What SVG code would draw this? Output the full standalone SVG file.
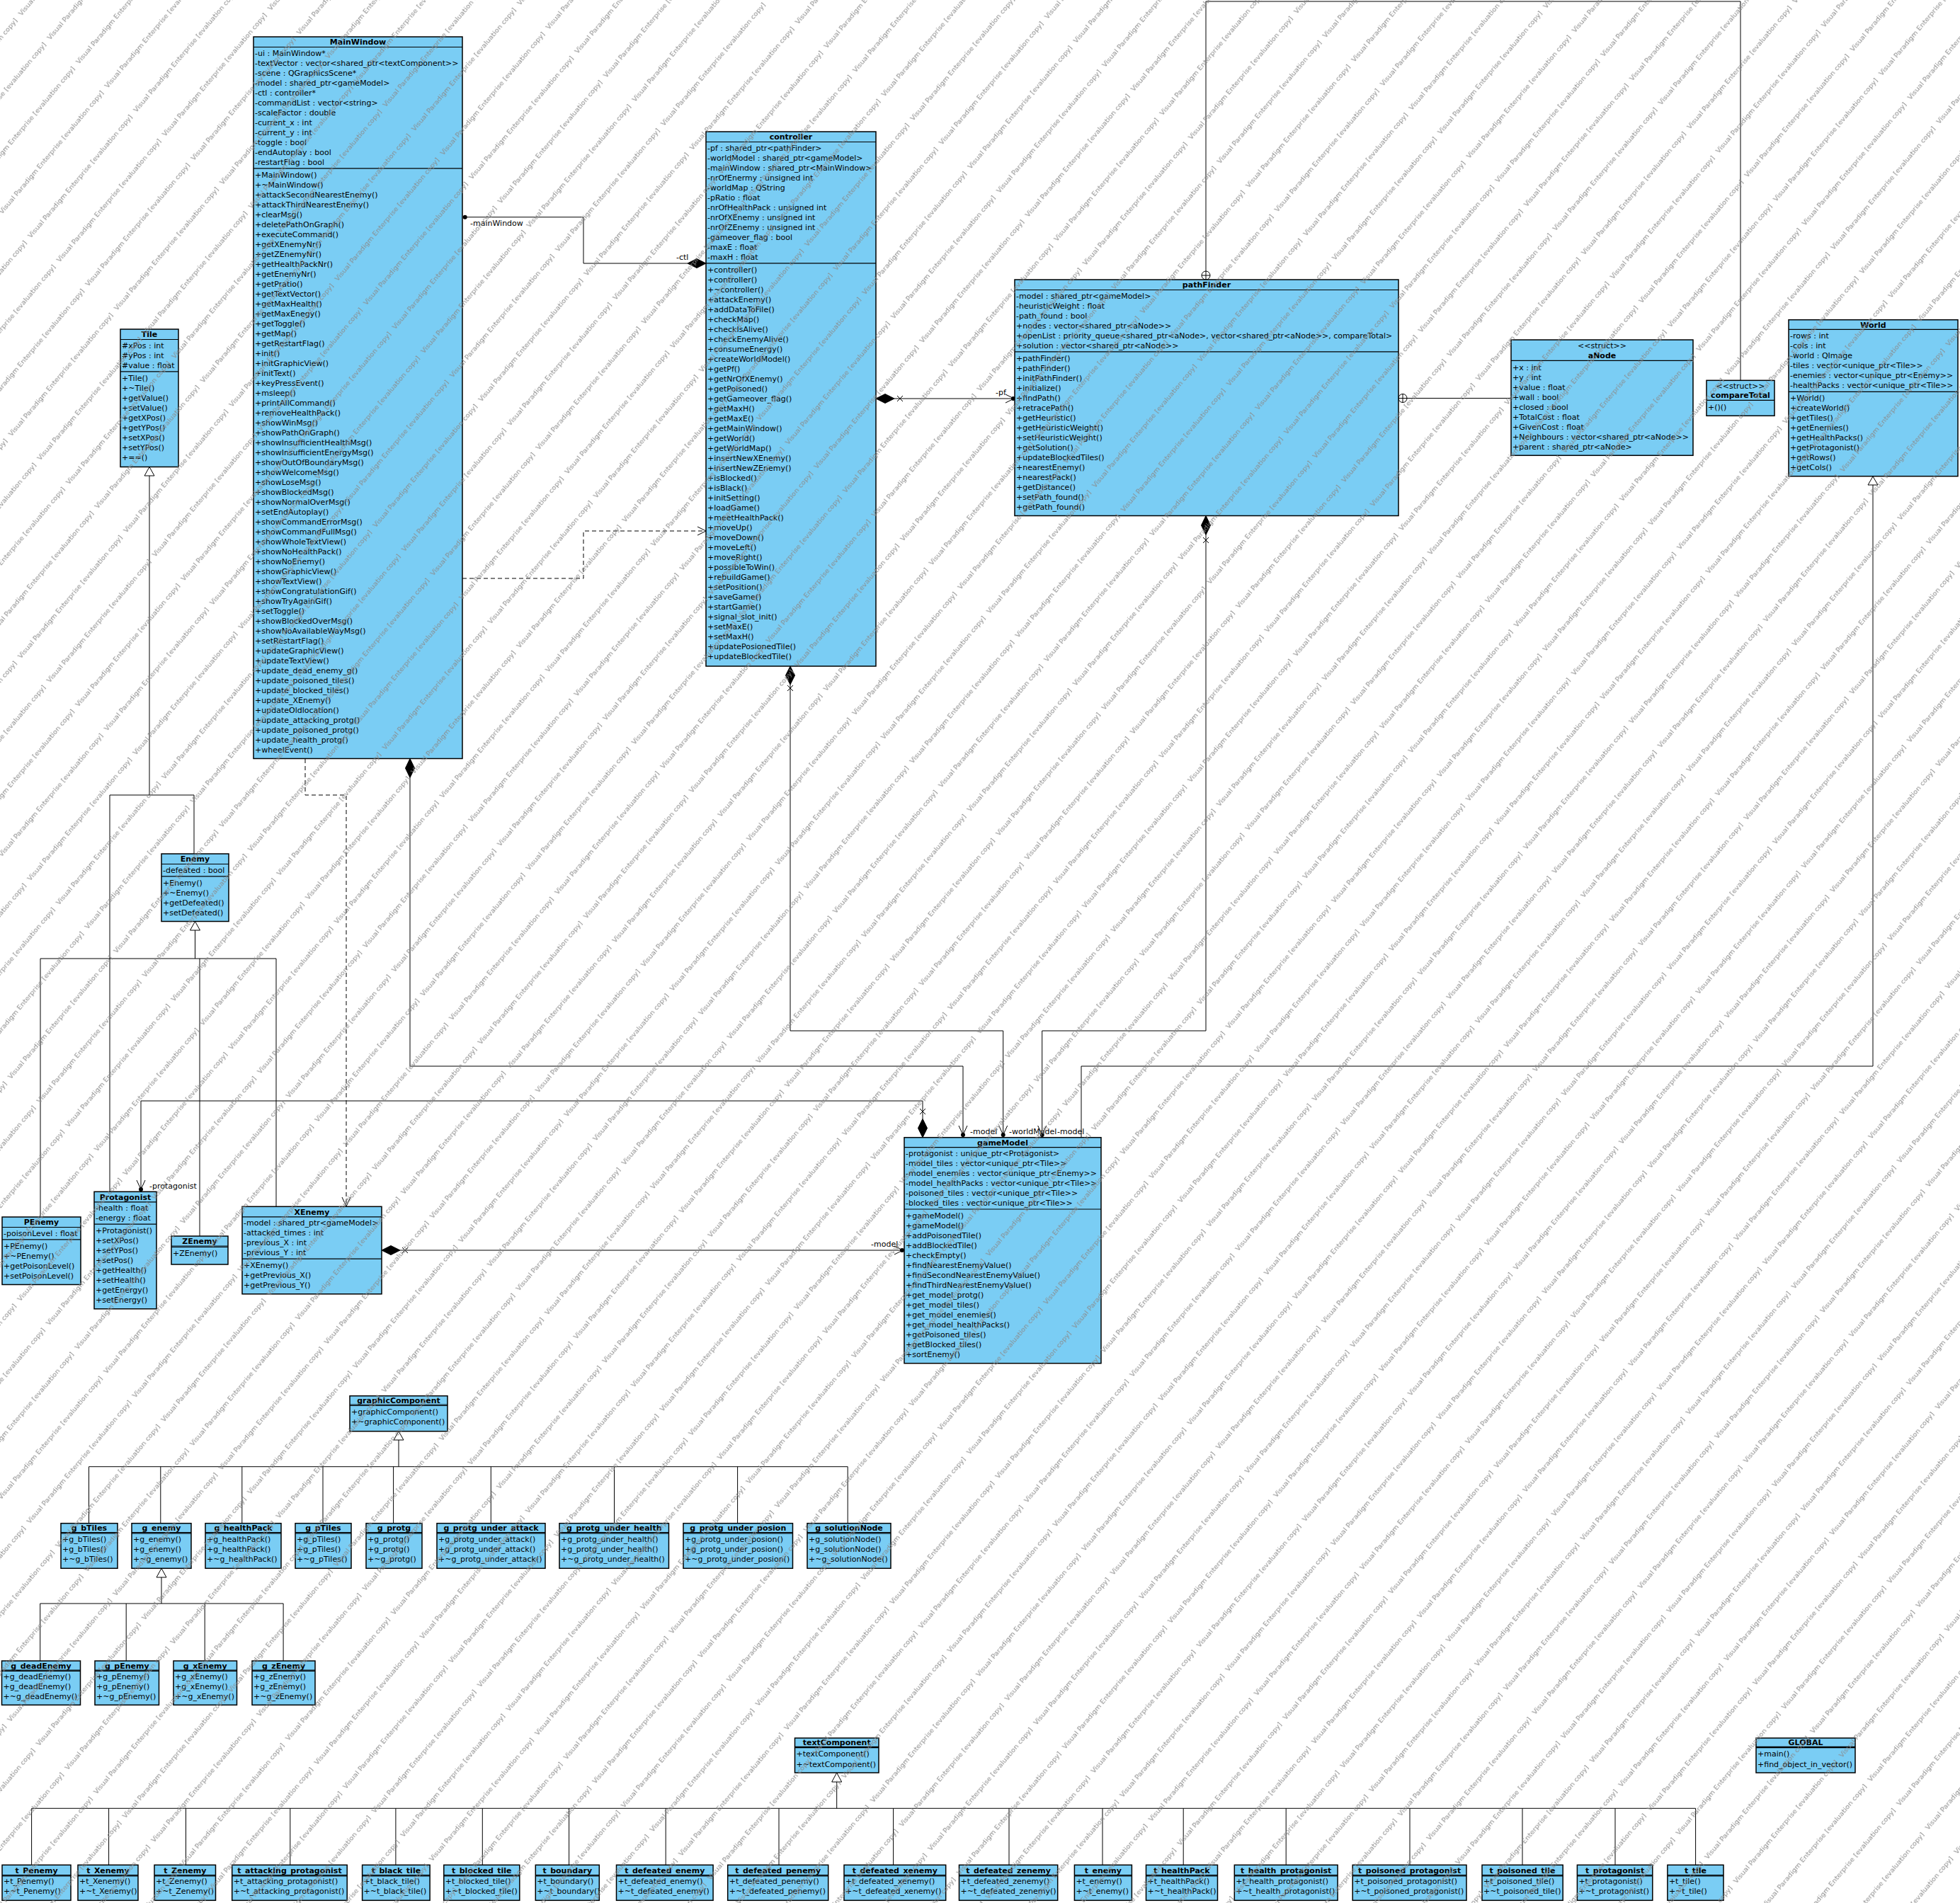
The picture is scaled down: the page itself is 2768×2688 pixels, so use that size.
<svg xmlns="http://www.w3.org/2000/svg" width="2768" height="2688" viewBox="0 0 2768 2688">
<defs>
<style>
.box{fill:#7acdf4;stroke:#000;stroke-width:1.5}
.dv{fill:none;stroke:#000;stroke-width:1.2}
.t{font-family:"DejaVu Sans",Verdana,sans-serif;font-size:11px;fill:#000}
.tt{font-family:"DejaVu Sans",Verdana,sans-serif;font-size:11px;font-weight:bold;text-anchor:middle;fill:#000}
.st{font-family:"DejaVu Sans",Verdana,sans-serif;font-size:11px;text-anchor:middle;fill:#000}
.ln{fill:none;stroke:#000;stroke-width:1}
.dash{stroke-dasharray:6 4}
.fill{fill:#000;stroke:#000;stroke-width:1}
.tri{fill:#fff;stroke:#000;stroke-width:1}
.wmt{font-family:"DejaVu Sans",sans-serif;font-size:9px;fill:#8a8a8a}
</style>
<pattern id="wm" patternUnits="userSpaceOnUse" width="232" height="53" patternTransform="rotate(-50)">
<text class="wmt" x="2" y="38" textLength="224" lengthAdjust="spacingAndGlyphs">Visual Paradigm Enterprise [evaluation copy]</text>
</pattern>
</defs>
<rect width="2768" height="2688" fill="#fff"/>

<!-- connectors -->
<g id="connectors">
<!-- MainWindow - controller -->
<path class="ln" d="M657,306.7 H824 V372 H971"/>
<circle cx="656.7" cy="306.7" r="3"/>
<path class="fill" d="M997,372 L984,365.5 L971,372 L984,378.5 Z"/>
<text class="t" x="664" y="319">-mainWindow</text>
<text class="t" x="955" y="367">-ctl</text>
<path class="ln dash" d="M653,817 H824 V750 H997"/>
<path class="ln" d="M985,744 L997,750 L985,756"/>
<!-- MainWindow - XEnemy dependency -->
<path class="ln dash" d="M431,1072 V1123 H489 V1704"/>
<path class="ln" d="M483,1691 L489,1704 L495,1691"/>
<!-- MainWindow - gameModel -->
<path class="fill" d="M579,1071.5 L572.5,1085 L579,1098.5 L585.5,1085 Z"/>
<path class="ln" d="M579,1098.5 V1506 H1360 V1606.7"/>
<path class="ln" d="M1354,1590 L1360,1603 L1366,1590"/>
<circle cx="1360" cy="1603" r="3"/>
<text class="t" x="1370" y="1602">-model</text>
<!-- controller - gameModel -->
<path class="fill" d="M1116,941 L1109.5,954 L1116,967 L1122.5,954 Z"/>
<path class="ln" d="M1112,968 L1120,976 M1120,968 L1112,976"/>
<path class="ln" d="M1116,967 V1456 H1416.7 V1606.7"/>
<path class="ln" d="M1410.7,1590 L1416.7,1603 L1422.7,1590"/>
<circle cx="1416.7" cy="1603" r="3"/>
<text class="t" x="1425" y="1602">-worldModel</text>
<!-- pathFinder - gameModel -->
<path class="fill" d="M1703,728.5 L1696.5,742 L1703,755.5 L1709.5,742 Z"/>
<path class="ln" d="M1699,759 L1707,767 M1707,759 L1699,767"/>
<path class="ln" d="M1703,755.5 V1456 H1471.7 V1606.7"/>
<path class="ln" d="M1465.7,1590 L1471.7,1603 L1477.7,1590"/>
<circle cx="1471.7" cy="1603" r="3"/>
<text class="t" x="1493" y="1602">-model</text>
<!-- gameModel generalizes World -->
<path class="ln" d="M1527,1606.7 V1506 H2645 V685"/>
<path class="tri" d="M2645,673 L2638,685 L2652,685 Z"/>
<!-- controller - pathFinder -->
<path class="fill" d="M1237,563 L1250,556.5 L1263,563 L1250,569.5 Z"/>
<path class="ln" d="M1267,559 L1275,567 M1275,559 L1267,567"/>
<path class="ln" d="M1263,563 H1433"/>
<path class="ln" d="M1420,557 L1432,563 L1420,569"/>
<circle cx="1431" cy="563" r="3"/>
<text class="t" x="1406" y="558">-pf</text>
<!-- pathFinder nests compareTotal -->
<circle cx="1703" cy="389" r="6" fill="#fff" stroke="#000"/>
<path class="ln" d="M1697,389 H1709 M1703,383 V395"/>
<path class="ln" d="M1703,383 V2 H2458 V537.3"/>
<!-- pathFinder nests aNode -->
<circle cx="1981" cy="562.5" r="6" fill="#fff" stroke="#000"/>
<path class="ln" d="M1975,562.5 H1987 M1981,556.5 V568.5"/>
<path class="ln" d="M1987,562.5 H2134"/>
<!-- gameModel - Protagonist -->
<path class="fill" d="M1303,1606.7 L1296.5,1593.5 L1303,1580.3 L1309.5,1593.5 Z"/>
<path class="ln" d="M1299,1566 L1307,1574 M1307,1566 L1299,1574"/>
<path class="ln" d="M1303,1580.3 V1555 H199 V1683.3"/>
<path class="ln" d="M193,1667 L199,1680 L205,1667"/>
<circle cx="199" cy="1680" r="3"/>
<text class="t" x="211" y="1679">-protagonist</text>
<!-- XEnemy - gameModel -->
<path class="fill" d="M539,1766 L552,1759.5 L565,1766 L552,1772.5 Z"/>
<path class="ln" d="M568,1762 L576,1770 M576,1762 L568,1770"/>
<path class="ln" d="M565,1766 H1277"/>
<path class="ln" d="M1263,1760 L1275,1766 L1263,1772"/>
<circle cx="1274" cy="1766" r="3"/>
<text class="t" x="1230" y="1761">-model</text>
<!-- Tile hierarchy -->
<path class="ln" d="M211,672 V1123 M155,1123 H274 M155,1123 V1683.3 M274,1123 V1206"/>
<path class="tri" d="M211,659.5 L204,672 L218,672 Z"/>
<!-- Enemy hierarchy -->
<path class="ln" d="M275.5,1314 V1354 M57,1354 H390 M57,1354 V1719 M282,1354 V1746 M390,1354 V1704.3"/>
<path class="tri" d="M275.5,1301.5 L268.5,1314 L282.5,1314 Z"/>
<!-- graphicComponent hierarchy -->
<path class="ln" d="M563,2034 V2071.7 M125.5,2071.7 H1197.2 M125.5,2071.7 V2151.7 M226.8,2071.7 V2151.7 M341.8,2071.7 V2151.7 M456,2071.7 V2151.7 M555.6,2071.7 V2151.7 M693.3,2071.7 V2151.7 M867.5,2071.7 V2151.7 M1041.6,2071.7 V2151.7 M1197.2,2071.7 V2151.7"/>
<path class="tri" d="M563,2021.7 L556,2034 L570,2034 Z"/>
<!-- g_enemy hierarchy -->
<path class="ln" d="M228,2228 V2265 M56.7,2265 H400.1 M56.7,2265 V2346 M178.2,2265 V2346 M289.2,2265 V2346 M400.1,2265 V2346"/>
<path class="tri" d="M228,2215.3 L221,2228 L235,2228 Z"/>
<!-- textComponent hierarchy -->
<path class="ln" d="M1181.7,2517 V2554.3 M44.6,2554.3 H2394.6 M44.6,2554.3 V2634.3 M153.6,2554.3 V2634.3 M262.5,2554.3 V2634.3 M409.8,2554.3 V2634.3 M558.9,2554.3 V2634.3 M681.3,2554.3 V2634.3 M803.6,2554.3 V2634.3 M940.2,2554.3 V2634.3 M1100,2554.3 V2634.3 M1261.6,2554.3 V2634.3 M1425,2554.3 V2634.3 M1557,2554.3 V2634.3 M1671.2,2554.3 V2634.3 M1816.2,2554.3 V2634.3 M1991,2554.3 V2634.3 M2150,2554.3 V2634.3 M2281,2554.3 V2634.3 M2394.6,2554.3 V2634.3"/>
<path class="tri" d="M1181.7,2504 L1174.7,2517 L1188.7,2517 Z"/>
</g>

<!-- classes -->
<g id="MainWindow">
<rect class="box" x="358" y="52" width="295" height="1019.5"/>
<path class="dv" d="M358,66.5 H653 M358,237.8 H653"/>
<text class="tt" x="505.5" y="63.3">MainWindow</text>
<text class="t" x="360" y="78.8"><tspan x="360">-ui : MainWindow*</tspan><tspan x="360" dy="14">-textVector : vector&lt;shared_ptr&lt;textComponent&gt;&gt;</tspan><tspan x="360" dy="14">-scene : QGraphicsScene*</tspan><tspan x="360" dy="14">-model : shared_ptr&lt;gameModel&gt;</tspan><tspan x="360" dy="14">-ctl : controller*</tspan><tspan x="360" dy="14">-commandList : vector&lt;string&gt;</tspan><tspan x="360" dy="14">-scaleFactor : double</tspan><tspan x="360" dy="14">-current_x : int</tspan><tspan x="360" dy="14">-current_y : int</tspan><tspan x="360" dy="14">-toggle : bool</tspan><tspan x="360" dy="14">-endAutoplay : bool</tspan><tspan x="360" dy="14">-restartFlag : bool</tspan></text>
<text class="t" x="360" y="250.5"><tspan x="360">+MainWindow()</tspan><tspan x="360" dy="14">+~MainWindow()</tspan><tspan x="360" dy="14">+attackSecondNearestEnemy()</tspan><tspan x="360" dy="14">+attackThirdNearestEnemy()</tspan><tspan x="360" dy="14">+clearMsg()</tspan><tspan x="360" dy="14">+deletePathOnGraph()</tspan><tspan x="360" dy="14">+executeCommand()</tspan><tspan x="360" dy="14">+getXEnemyNr()</tspan><tspan x="360" dy="14">+getZEnemyNr()</tspan><tspan x="360" dy="14">+getHealthPackNr()</tspan><tspan x="360" dy="14">+getEnemyNr()</tspan><tspan x="360" dy="14">+getPratio()</tspan><tspan x="360" dy="14">+getTextVector()</tspan><tspan x="360" dy="14">+getMaxHealth()</tspan><tspan x="360" dy="14">+getMaxEnegy()</tspan><tspan x="360" dy="14">+getToggle()</tspan><tspan x="360" dy="14">+getMap()</tspan><tspan x="360" dy="14">+getRestartFlag()</tspan><tspan x="360" dy="14">+init()</tspan><tspan x="360" dy="14">+initGraphicView()</tspan><tspan x="360" dy="14">+initText()</tspan><tspan x="360" dy="14">+keyPressEvent()</tspan><tspan x="360" dy="14">+msleep()</tspan><tspan x="360" dy="14">+printAllCommand()</tspan><tspan x="360" dy="14">+removeHealthPack()</tspan><tspan x="360" dy="14">+showWinMsg()</tspan><tspan x="360" dy="14">+showPathOnGraph()</tspan><tspan x="360" dy="14">+showInsufficientHealthMsg()</tspan><tspan x="360" dy="14">+showInsufficientEnergyMsg()</tspan><tspan x="360" dy="14">+showOutOfBoundaryMsg()</tspan><tspan x="360" dy="14">+showWelcomeMsg()</tspan><tspan x="360" dy="14">+showLoseMsg()</tspan><tspan x="360" dy="14">+showBlockedMsg()</tspan><tspan x="360" dy="14">+showNormalOverMsg()</tspan><tspan x="360" dy="14">+setEndAutoplay()</tspan><tspan x="360" dy="14">+showCommandErrorMsg()</tspan><tspan x="360" dy="14">+showCommandFullMsg()</tspan><tspan x="360" dy="14">+showWholeTextView()</tspan><tspan x="360" dy="14">+showNoHealthPack()</tspan><tspan x="360" dy="14">+showNoEnemy()</tspan><tspan x="360" dy="14">+showGraphicView()</tspan><tspan x="360" dy="14">+showTextView()</tspan><tspan x="360" dy="14">+showCongratulationGif()</tspan><tspan x="360" dy="14">+showTryAgainGif()</tspan><tspan x="360" dy="14">+setToggle()</tspan><tspan x="360" dy="14">+showBlockedOverMsg()</tspan><tspan x="360" dy="14">+showNoAvailableWayMsg()</tspan><tspan x="360" dy="14">+setRestartFlag()</tspan><tspan x="360" dy="14">+updateGraphicView()</tspan><tspan x="360" dy="14">+updateTextView()</tspan><tspan x="360" dy="14">+update_dead_enemy_g()</tspan><tspan x="360" dy="14">+update_poisoned_tiles()</tspan><tspan x="360" dy="14">+update_blocked_tiles()</tspan><tspan x="360" dy="14">+update_XEnemy()</tspan><tspan x="360" dy="14">+updateOldlocation()</tspan><tspan x="360" dy="14">+update_attacking_protg()</tspan><tspan x="360" dy="14">+update_poisoned_protg()</tspan><tspan x="360" dy="14">+update_health_protg()</tspan><tspan x="360" dy="14">+wheelEvent()</tspan></text>
</g>

<g id="controller">
<rect class="box" x="997" y="186" width="240" height="755"/>
<path class="dv" d="M997,200.5 H1237 M997,371.8 H1237"/>
<text class="tt" x="1117" y="197.3">controller</text>
<text class="t" x="999" y="212.8"><tspan x="999">-pf : shared_ptr&lt;pathFinder&gt;</tspan><tspan x="999" dy="14">-worldModel : shared_ptr&lt;gameModel&gt;</tspan><tspan x="999" dy="14">-mainWindow : shared_ptr&lt;MainWindow&gt;</tspan><tspan x="999" dy="14">-nrOfEnermy : unsigned int</tspan><tspan x="999" dy="14">-worldMap : QString</tspan><tspan x="999" dy="14">-pRatio : float</tspan><tspan x="999" dy="14">-nrOfHealthPack : unsigned int</tspan><tspan x="999" dy="14">-nrOfXEnemy : unsigned int</tspan><tspan x="999" dy="14">-nrOfZEnemy : unsigned int</tspan><tspan x="999" dy="14">-gameover_flag : bool</tspan><tspan x="999" dy="14">-maxE : float</tspan><tspan x="999" dy="14">-maxH : float</tspan></text>
<text class="t" x="999" y="384.5"><tspan x="999">+controller()</tspan><tspan x="999" dy="14">+controller()</tspan><tspan x="999" dy="14">+~controller()</tspan><tspan x="999" dy="14">+attackEnemy()</tspan><tspan x="999" dy="14">+addDataToFile()</tspan><tspan x="999" dy="14">+checkMap()</tspan><tspan x="999" dy="14">+checkIsAlive()</tspan><tspan x="999" dy="14">+checkEnemyAlive()</tspan><tspan x="999" dy="14">+consumeEnergy()</tspan><tspan x="999" dy="14">+createWorldModel()</tspan><tspan x="999" dy="14">+getPf()</tspan><tspan x="999" dy="14">+getNrOfXEnemy()</tspan><tspan x="999" dy="14">+getPoisoned()</tspan><tspan x="999" dy="14">+getGameover_flag()</tspan><tspan x="999" dy="14">+getMaxH()</tspan><tspan x="999" dy="14">+getMaxE()</tspan><tspan x="999" dy="14">+getMainWindow()</tspan><tspan x="999" dy="14">+getWorld()</tspan><tspan x="999" dy="14">+getWorldMap()</tspan><tspan x="999" dy="14">+insertNewXEnemy()</tspan><tspan x="999" dy="14">+insertNewZEnemy()</tspan><tspan x="999" dy="14">+isBlocked()</tspan><tspan x="999" dy="14">+isBlack()</tspan><tspan x="999" dy="14">+initSetting()</tspan><tspan x="999" dy="14">+loadGame()</tspan><tspan x="999" dy="14">+meetHealthPack()</tspan><tspan x="999" dy="14">+moveUp()</tspan><tspan x="999" dy="14">+moveDown()</tspan><tspan x="999" dy="14">+moveLeft()</tspan><tspan x="999" dy="14">+moveRight()</tspan><tspan x="999" dy="14">+possibleToWin()</tspan><tspan x="999" dy="14">+rebuildGame()</tspan><tspan x="999" dy="14">+setPosition()</tspan><tspan x="999" dy="14">+saveGame()</tspan><tspan x="999" dy="14">+startGame()</tspan><tspan x="999" dy="14">+signal_slot_init()</tspan><tspan x="999" dy="14">+setMaxE()</tspan><tspan x="999" dy="14">+setMaxH()</tspan><tspan x="999" dy="14">+updatePosionedTile()</tspan><tspan x="999" dy="14">+updateBlockedTile()</tspan></text>
</g>

<g id="pathFinder">
<rect class="box" x="1433" y="395" width="542" height="333.5"/>
<path class="dv" d="M1433,409.5 H1975 M1433,496.8 H1975"/>
<text class="tt" x="1704" y="406.3">pathFinder</text>
<text class="t" x="1435" y="421.8"><tspan x="1435">-model : shared_ptr&lt;gameModel&gt;</tspan><tspan x="1435" dy="14">-heuristicWeight : float</tspan><tspan x="1435" dy="14">-path_found : bool</tspan><tspan x="1435" dy="14">+nodes : vector&lt;shared_ptr&lt;aNode&gt;&gt;</tspan><tspan x="1435" dy="14">+openList : priority_queue&lt;shared_ptr&lt;aNode&gt;, vector&lt;shared_ptr&lt;aNode&gt;&gt;, compareTotal&gt;</tspan><tspan x="1435" dy="14">+solution : vector&lt;shared_ptr&lt;aNode&gt;&gt;</tspan></text>
<text class="t" x="1435" y="509.5"><tspan x="1435">+pathFinder()</tspan><tspan x="1435" dy="14">+pathFinder()</tspan><tspan x="1435" dy="14">+initPathFinder()</tspan><tspan x="1435" dy="14">+initialize()</tspan><tspan x="1435" dy="14">+findPath()</tspan><tspan x="1435" dy="14">+retracePath()</tspan><tspan x="1435" dy="14">+getHeuristic()</tspan><tspan x="1435" dy="14">+getHeuristicWeight()</tspan><tspan x="1435" dy="14">+setHeuristicWeight()</tspan><tspan x="1435" dy="14">+getSolution()</tspan><tspan x="1435" dy="14">+updateBlockedTiles()</tspan><tspan x="1435" dy="14">+nearestEnemy()</tspan><tspan x="1435" dy="14">+nearestPack()</tspan><tspan x="1435" dy="14">+getDistance()</tspan><tspan x="1435" dy="14">+setPath_found()</tspan><tspan x="1435" dy="14">+getPath_found()</tspan></text>
</g>

<g id="aNode">
<rect class="box" x="2134" y="480" width="257" height="163.3"/>
<path class="dv" d="M2134,509.3 H2391"/>
<text class="st" x="2262.5" y="492.3">&lt;&lt;struct&gt;&gt;</text>
<text class="tt" x="2262.5" y="506">aNode</text>
<text class="t" x="2136" y="522.7"><tspan x="2136">+x : int</tspan><tspan x="2136" dy="14">+y : int</tspan><tspan x="2136" dy="14">+value : float</tspan><tspan x="2136" dy="14">+wall : bool</tspan><tspan x="2136" dy="14">+closed : bool</tspan><tspan x="2136" dy="14">+TotalCost : float</tspan><tspan x="2136" dy="14">+GivenCost : float</tspan><tspan x="2136" dy="14">+Neighbours : vector&lt;shared_ptr&lt;aNode&gt;&gt;</tspan><tspan x="2136" dy="14">+parent : shared_ptr&lt;aNode&gt;</tspan></text>
</g>

<g id="compareTotal">
<rect class="box" x="2410" y="537.3" width="96" height="50"/>
<path class="dv" d="M2410,565.3 H2506"/>
<text class="st" x="2458" y="549">&lt;&lt;struct&gt;&gt;</text>
<text class="tt" x="2458" y="562">compareTotal</text>
<text class="t" x="2412" y="578.7">+()()</text>
</g>

<g id="World">
<rect class="box" x="2526" y="451.7" width="239" height="221"/>
<path class="dv" d="M2526,465.3 H2765 M2526,553.3 H2765"/>
<text class="tt" x="2645.5" y="462.5">World</text>
<text class="t" x="2528" y="478"><tspan x="2528">-rows : int</tspan><tspan x="2528" dy="14">-cols : int</tspan><tspan x="2528" dy="14">-world : QImage</tspan><tspan x="2528" dy="14">-tiles : vector&lt;unique_ptr&lt;Tile&gt;&gt;</tspan><tspan x="2528" dy="14">-enemies : vector&lt;unique_ptr&lt;Enemy&gt;&gt;</tspan><tspan x="2528" dy="14">-healthPacks : vector&lt;unique_ptr&lt;Tile&gt;&gt;</tspan></text>
<text class="t" x="2528" y="566"><tspan x="2528">+World()</tspan><tspan x="2528" dy="14">+createWorld()</tspan><tspan x="2528" dy="14">+getTiles()</tspan><tspan x="2528" dy="14">+getEnemies()</tspan><tspan x="2528" dy="14">+getHealthPacks()</tspan><tspan x="2528" dy="14">+getProtagonist()</tspan><tspan x="2528" dy="14">+getRows()</tspan><tspan x="2528" dy="14">+getCols()</tspan></text>
</g>

<g id="Tile">
<rect class="box" x="170" y="465" width="82" height="194.5"/>
<path class="dv" d="M170,479.5 H252 M170,524.8 H252"/>
<text class="tt" x="211" y="476.3">Tile</text>
<text class="t" x="172" y="491.8"><tspan x="172">#xPos : int</tspan><tspan x="172" dy="14">#yPos : int</tspan><tspan x="172" dy="14">#value : float</tspan></text>
<text class="t" x="172" y="537.5"><tspan x="172">+Tile()</tspan><tspan x="172" dy="14">+~Tile()</tspan><tspan x="172" dy="14">+getValue()</tspan><tspan x="172" dy="14">+setValue()</tspan><tspan x="172" dy="14">+getXPos()</tspan><tspan x="172" dy="14">+getYPos()</tspan><tspan x="172" dy="14">+setXPos()</tspan><tspan x="172" dy="14">+setYPos()</tspan><tspan x="172" dy="14">+==()</tspan></text>
</g>

<g id="Enemy">
<rect class="box" x="228" y="1206" width="95" height="95.5"/>
<path class="dv" d="M228,1220.5 H323 M228,1237.8 H323"/>
<text class="tt" x="275.5" y="1217.3">Enemy</text>
<text class="t" x="230" y="1232.8">-defeated : bool</text>
<text class="t" x="230" y="1250.5"><tspan x="230">+Enemy()</tspan><tspan x="230" dy="14">+~Enemy()</tspan><tspan x="230" dy="14">+getDefeated()</tspan><tspan x="230" dy="14">+setDefeated()</tspan></text>
</g>

<g id="PEnemy">
<rect class="box" x="3" y="1719" width="111" height="95.5"/>
<path class="dv" d="M3,1733.5 H114 M3,1750.8 H114"/>
<text class="tt" x="58.5" y="1730.3">PEnemy</text>
<text class="t" x="5" y="1745.8">-poisonLevel : float</text>
<text class="t" x="5" y="1763.5"><tspan x="5">+PEnemy()</tspan><tspan x="5" dy="14">+~PEnemy()</tspan><tspan x="5" dy="14">+getPoisonLevel()</tspan><tspan x="5" dy="14">+setPoisonLevel()</tspan></text>
</g>

<g id="Protagonist">
<rect class="box" x="133" y="1683.3" width="88" height="165.5"/>
<path class="dv" d="M133,1697.8 H221 M133,1729.1 H221"/>
<text class="tt" x="177" y="1694.6">Protagonist</text>
<text class="t" x="135" y="1710.1"><tspan x="135">-health : float</tspan><tspan x="135" dy="14">-energy : float</tspan></text>
<text class="t" x="135" y="1741.8"><tspan x="135">+Protagonist()</tspan><tspan x="135" dy="14">+setXPos()</tspan><tspan x="135" dy="14">+setYPos()</tspan><tspan x="135" dy="14">+setPos()</tspan><tspan x="135" dy="14">+getHealth()</tspan><tspan x="135" dy="14">+setHealth()</tspan><tspan x="135" dy="14">+getEnergy()</tspan><tspan x="135" dy="14">+setEnergy()</tspan></text>
</g>

<g id="ZEnemy">
<rect class="box" x="242" y="1746" width="80" height="40"/>
<path class="dv" d="M242,1760 H322 M242,1761.5 H322"/>
<text class="tt" x="282" y="1757">ZEnemy</text>
<text class="t" x="244" y="1774">+ZEnemy()</text>
</g>

<g id="XEnemy">
<rect class="box" x="342" y="1704.3" width="197" height="123.5"/>
<path class="dv" d="M342,1718.8 H539 M342,1778.1 H539"/>
<text class="tt" x="440.5" y="1715.6">XEnemy</text>
<text class="t" x="344" y="1731.1"><tspan x="344">-model : shared_ptr&lt;gameModel&gt;</tspan><tspan x="344" dy="14">-attacked_times : int</tspan><tspan x="344" dy="14">-previous_X : int</tspan><tspan x="344" dy="14">-previous_Y : int</tspan></text>
<text class="t" x="344" y="1790.8"><tspan x="344">+XEnemy()</tspan><tspan x="344" dy="14">+getPrevious_X()</tspan><tspan x="344" dy="14">+getPrevious_Y()</tspan></text>
</g>

<g id="gameModel">
<rect class="box" x="1277" y="1606.7" width="278" height="319"/>
<path class="dv" d="M1277,1620.7 H1555 M1277,1708 H1555"/>
<text class="tt" x="1416" y="1617.7">gameModel</text>
<text class="t" x="1279" y="1633"><tspan x="1279">-protagonist : unique_ptr&lt;Protagonist&gt;</tspan><tspan x="1279" dy="14">-model_tiles : vector&lt;unique_ptr&lt;Tile&gt;&gt;</tspan><tspan x="1279" dy="14">-model_enemies : vector&lt;unique_ptr&lt;Enemy&gt;&gt;</tspan><tspan x="1279" dy="14">-model_healthPacks : vector&lt;unique_ptr&lt;Tile&gt;&gt;</tspan><tspan x="1279" dy="14">-poisoned_tiles : vector&lt;unique_ptr&lt;Tile&gt;&gt;</tspan><tspan x="1279" dy="14">-blocked_tiles : vector&lt;unique_ptr&lt;Tile&gt;&gt;</tspan></text>
<text class="t" x="1279" y="1720.7"><tspan x="1279">+gameModel()</tspan><tspan x="1279" dy="14">+gameModel()</tspan><tspan x="1279" dy="14">+addPoisonedTile()</tspan><tspan x="1279" dy="14">+addBlockedTile()</tspan><tspan x="1279" dy="14">+checkEmpty()</tspan><tspan x="1279" dy="14">+findNearestEnemyValue()</tspan><tspan x="1279" dy="14">+findSecondNearestEnemyValue()</tspan><tspan x="1279" dy="14">+findThirdNearestEnemyValue()</tspan><tspan x="1279" dy="14">+get_model_protg()</tspan><tspan x="1279" dy="14">+get_model_tiles()</tspan><tspan x="1279" dy="14">+get_model_enemies()</tspan><tspan x="1279" dy="14">+get_model_healthPacks()</tspan><tspan x="1279" dy="14">+getPoisoned_tiles()</tspan><tspan x="1279" dy="14">+getBlocked_tiles()</tspan><tspan x="1279" dy="14">+sortEnemy()</tspan></text>
</g>

<g id="graphicComponent">
<rect class="box" x="494" y="1971.7" width="138" height="50"/>
<path class="dv" d="M494,1984 H632 M494,1985.5 H632"/>
<text class="tt" x="563" y="1982">graphicComponent</text>
<text class="t" x="496" y="1997.5"><tspan x="496">+graphicComponent()</tspan><tspan x="496" dy="14.5">+~graphicComponent()</tspan></text>
</g>

<g id="g_bTiles">
<rect class="box" x="86" y="2151.7" width="80" height="63.6"/>
<path class="dv" d="M86,2164.7 H166 M86,2166 H166"/>
<text class="tt" x="126" y="2162.2">g_bTiles</text>
<text class="t" x="88" y="2178.3"><tspan x="88">+g_bTiles()</tspan><tspan x="88" dy="14">+g_bTiles()</tspan><tspan x="88" dy="14">+~g_bTiles()</tspan></text>
</g>
<g id="g_enemy">
<rect class="box" x="186" y="2151.7" width="84" height="63.6"/>
<path class="dv" d="M186,2164.7 H270 M186,2166 H270"/>
<text class="tt" x="228" y="2162.2">g_enemy</text>
<text class="t" x="188" y="2178.3"><tspan x="188">+g_enemy()</tspan><tspan x="188" dy="14">+g_enemy()</tspan><tspan x="188" dy="14">+~g_enemy()</tspan></text>
</g>
<g id="g_healthPack">
<rect class="box" x="290" y="2151.7" width="107" height="63.6"/>
<path class="dv" d="M290,2164.7 H397 M290,2166 H397"/>
<text class="tt" x="343.5" y="2162.2">g_healthPack</text>
<text class="t" x="292" y="2178.3"><tspan x="292">+g_healthPack()</tspan><tspan x="292" dy="14">+g_healthPack()</tspan><tspan x="292" dy="14">+~g_healthPack()</tspan></text>
</g>
<g id="g_pTiles">
<rect class="box" x="417" y="2151.7" width="79" height="63.6"/>
<path class="dv" d="M417,2164.7 H496 M417,2166 H496"/>
<text class="tt" x="456.5" y="2162.2">g_pTiles</text>
<text class="t" x="419" y="2178.3"><tspan x="419">+g_pTiles()</tspan><tspan x="419" dy="14">+g_pTiles()</tspan><tspan x="419" dy="14">+~g_pTiles()</tspan></text>
</g>
<g id="g_protg">
<rect class="box" x="517" y="2151.7" width="79" height="63.6"/>
<path class="dv" d="M517,2164.7 H596 M517,2166 H596"/>
<text class="tt" x="556.5" y="2162.2">g_protg</text>
<text class="t" x="519" y="2178.3"><tspan x="519">+g_protg()</tspan><tspan x="519" dy="14">+g_protg()</tspan><tspan x="519" dy="14">+~g_protg()</tspan></text>
</g>
<g id="g_protg_under_attack">
<rect class="box" x="617" y="2151.7" width="153" height="63.6"/>
<path class="dv" d="M617,2164.7 H770 M617,2166 H770"/>
<text class="tt" x="693.5" y="2162.2">g_protg_under_attack</text>
<text class="t" x="619" y="2178.3"><tspan x="619">+g_protg_under_attack()</tspan><tspan x="619" dy="14">+g_protg_under_attack()</tspan><tspan x="619" dy="14">+~g_protg_under_attack()</tspan></text>
</g>
<g id="g_protg_under_health">
<rect class="box" x="790" y="2151.7" width="154.5" height="63.6"/>
<path class="dv" d="M790,2164.7 H944.5 M790,2166 H944.5"/>
<text class="tt" x="867.3" y="2162.2">g_protg_under_health</text>
<text class="t" x="792" y="2178.3"><tspan x="792">+g_protg_under_health()</tspan><tspan x="792" dy="14">+g_protg_under_health()</tspan><tspan x="792" dy="14">+~g_protg_under_health()</tspan></text>
</g>
<g id="g_protg_under_posion">
<rect class="box" x="965" y="2151.7" width="154.5" height="63.6"/>
<path class="dv" d="M965,2164.7 H1119.5 M965,2166 H1119.5"/>
<text class="tt" x="1042.3" y="2162.2">g_protg_under_posion</text>
<text class="t" x="967" y="2178.3"><tspan x="967">+g_protg_under_posion()</tspan><tspan x="967" dy="14">+g_protg_under_posion()</tspan><tspan x="967" dy="14">+~g_protg_under_posion()</tspan></text>
</g>
<g id="g_solutionNode">
<rect class="box" x="1140" y="2151.7" width="118" height="63.6"/>
<path class="dv" d="M1140,2164.7 H1258 M1140,2166 H1258"/>
<text class="tt" x="1199" y="2162.2">g_solutionNode</text>
<text class="t" x="1142" y="2178.3"><tspan x="1142">+g_solutionNode()</tspan><tspan x="1142" dy="14">+g_solutionNode()</tspan><tspan x="1142" dy="14">+~g_solutionNode()</tspan></text>
</g>

<g id="g_deadEnemy">
<rect class="box" x="2.5" y="2346" width="111" height="62.3"/>
<path class="dv" d="M2.5,2359 H113.5 M2.5,2360.3 H113.5"/>
<text class="tt" x="58" y="2356.5">g_deadEnemy</text>
<text class="t" x="4.5" y="2372.3"><tspan x="4.5">+g_deadEnemy()</tspan><tspan x="4.5" dy="14">+g_deadEnemy()</tspan><tspan x="4.5" dy="14">+~g_deadEnemy()</tspan></text>
</g>
<g id="g_pEnemy">
<rect class="box" x="134" y="2346" width="90.5" height="62.3"/>
<path class="dv" d="M134,2359 H224.5 M134,2360.3 H224.5"/>
<text class="tt" x="179.3" y="2356.5">g_pEnemy</text>
<text class="t" x="136" y="2372.3"><tspan x="136">+g_pEnemy()</tspan><tspan x="136" dy="14">+g_pEnemy()</tspan><tspan x="136" dy="14">+~g_pEnemy()</tspan></text>
</g>
<g id="g_xEnemy">
<rect class="box" x="245" y="2346" width="89.5" height="62.3"/>
<path class="dv" d="M245,2359 H334.5 M245,2360.3 H334.5"/>
<text class="tt" x="289.8" y="2356.5">g_xEnemy</text>
<text class="t" x="247" y="2372.3"><tspan x="247">+g_xEnemy()</tspan><tspan x="247" dy="14">+g_xEnemy()</tspan><tspan x="247" dy="14">+~g_xEnemy()</tspan></text>
</g>
<g id="g_zEnemy">
<rect class="box" x="356" y="2346" width="89" height="62.3"/>
<path class="dv" d="M356,2359 H445 M356,2360.3 H445"/>
<text class="tt" x="400.5" y="2356.5">g_zEnemy</text>
<text class="t" x="358" y="2372.3"><tspan x="358">+g_zEnemy()</tspan><tspan x="358" dy="14">+g_zEnemy()</tspan><tspan x="358" dy="14">+~g_zEnemy()</tspan></text>
</g>

<g id="textComponent">
<rect class="box" x="1122.5" y="2455" width="118.5" height="49"/>
<path class="dv" d="M1122.5,2467.3 H1241 M1122.5,2468.6 H1241"/>
<text class="tt" x="1181.7" y="2465.2">textComponent</text>
<text class="t" x="1124.5" y="2481.3"><tspan x="1124.5">+textComponent()</tspan><tspan x="1124.5" dy="14.4">+~textComponent()</tspan></text>
</g>

<g id="GLOBAL">
<rect class="box" x="2480" y="2455" width="140" height="49"/>
<path class="dv" d="M2480,2467.3 H2620 M2480,2468.6 H2620"/>
<text class="tt" x="2550" y="2465.2">GLOBAL</text>
<text class="t" x="2482" y="2481.3"><tspan x="2482">+main()</tspan><tspan x="2482" dy="14.4">+find_object_in_vector()</tspan></text>
</g>

<g id="t_Penemy"><rect class="box" x="3" y="2634.3" width="97" height="50"/><path class="dv" d="M3,2648.7 H100 M3,2650 H100"/><text class="tt" x="51.5" y="2645.5">t_Penemy</text><text class="t" x="5" y="2661.3"><tspan x="5">+t_Penemy()</tspan><tspan x="5" dy="13.4">+~t_Penemy()</tspan></text></g>
<g id="t_Xenemy"><rect class="box" x="110" y="2634.3" width="85" height="50"/><path class="dv" d="M110,2648.7 H195 M110,2650 H195"/><text class="tt" x="152.5" y="2645.5">t_Xenemy</text><text class="t" x="112" y="2661.3"><tspan x="112">+t_Xenemy()</tspan><tspan x="112" dy="13.4">+~t_Xenemy()</tspan></text></g>
<g id="t_Zenemy"><rect class="box" x="218" y="2634.3" width="86.5" height="50"/><path class="dv" d="M218,2648.7 H304.5 M218,2650 H304.5"/><text class="tt" x="261.3" y="2645.5">t_Zenemy</text><text class="t" x="220" y="2661.3"><tspan x="220">+t_Zenemy()</tspan><tspan x="220" dy="13.4">+~t_Zenemy()</tspan></text></g>
<g id="t_attacking_protagonist"><rect class="box" x="327.7" y="2634.3" width="162.5" height="50"/><path class="dv" d="M327.7,2648.7 H490.2 M327.7,2650 H490.2"/><text class="tt" x="409" y="2645.5">t_attacking_protagonist</text><text class="t" x="329.7" y="2661.3"><tspan x="329.7">+t_attacking_protagonist()</tspan><tspan x="329.7" dy="13.4">+~t_attacking_protagonist()</tspan></text></g>
<g id="t_black_tile"><rect class="box" x="511.6" y="2634.3" width="95.5" height="50"/><path class="dv" d="M511.6,2648.7 H607.1 M511.6,2650 H607.1"/><text class="tt" x="559.4" y="2645.5">t_black_tile</text><text class="t" x="513.6" y="2661.3"><tspan x="513.6">+t_black_tile()</tspan><tspan x="513.6" dy="13.4">+~t_black_tile()</tspan></text></g>
<g id="t_blocked_tile"><rect class="box" x="626.8" y="2634.3" width="107" height="50"/><path class="dv" d="M626.8,2648.7 H733.8 M626.8,2650 H733.8"/><text class="tt" x="680.3" y="2645.5">t_blocked_tile</text><text class="t" x="628.8" y="2661.3"><tspan x="628.8">+t_blocked_tile()</tspan><tspan x="628.8" dy="13.4">+~t_blocked_tile()</tspan></text></g>
<g id="t_boundary"><rect class="box" x="756.3" y="2634.3" width="90" height="50"/><path class="dv" d="M756.3,2648.7 H846.3 M756.3,2650 H846.3"/><text class="tt" x="801.3" y="2645.5">t_boundary</text><text class="t" x="758.3" y="2661.3"><tspan x="758.3">+t_boundary()</tspan><tspan x="758.3" dy="13.4">+~t_boundary()</tspan></text></g>
<g id="t_defeated_enemy"><rect class="box" x="870.5" y="2634.3" width="136.6" height="50"/><path class="dv" d="M870.5,2648.7 H1007.1 M870.5,2650 H1007.1"/><text class="tt" x="938.8" y="2645.5">t_defeated_enemy</text><text class="t" x="872.5" y="2661.3"><tspan x="872.5">+t_defeated_enemy()</tspan><tspan x="872.5" dy="13.4">+~t_defeated_enemy()</tspan></text></g>
<g id="t_defeated_penemy"><rect class="box" x="1027.7" y="2634.3" width="142" height="50"/><path class="dv" d="M1027.7,2648.7 H1169.7 M1027.7,2650 H1169.7"/><text class="tt" x="1098.7" y="2645.5">t_defeated_penemy</text><text class="t" x="1029.7" y="2661.3"><tspan x="1029.7">+t_defeated_penemy()</tspan><tspan x="1029.7" dy="13.4">+~t_defeated_penemy()</tspan></text></g>
<g id="t_defeated_xenemy"><rect class="box" x="1192" y="2634.3" width="143.7" height="50"/><path class="dv" d="M1192,2648.7 H1335.7 M1192,2650 H1335.7"/><text class="tt" x="1263.8" y="2645.5">t_defeated_xenemy</text><text class="t" x="1194" y="2661.3"><tspan x="1194">+t_defeated_xenemy()</tspan><tspan x="1194" dy="13.4">+~t_defeated_xenemy()</tspan></text></g>
<g id="t_defeated_zenemy"><rect class="box" x="1354.5" y="2634.3" width="139.2" height="50"/><path class="dv" d="M1354.5,2648.7 H1493.7 M1354.5,2650 H1493.7"/><text class="tt" x="1424.1" y="2645.5">t_defeated_zenemy</text><text class="t" x="1356.5" y="2661.3"><tspan x="1356.5">+t_defeated_zenemy()</tspan><tspan x="1356.5" dy="13.4">+~t_defeated_zenemy()</tspan></text></g>
<g id="t_enemy"><rect class="box" x="1517.4" y="2634.3" width="81" height="50"/><path class="dv" d="M1517.4,2648.7 H1598.4 M1517.4,2650 H1598.4"/><text class="tt" x="1557.9" y="2645.5">t_enemy</text><text class="t" x="1519.4" y="2661.3"><tspan x="1519.4">+t_enemy()</tspan><tspan x="1519.4" dy="13.4">+~t_enemy()</tspan></text></g>
<g id="t_healthPack"><rect class="box" x="1618.5" y="2634.3" width="101" height="50"/><path class="dv" d="M1618.5,2648.7 H1719.5 M1618.5,2650 H1719.5"/><text class="tt" x="1669" y="2645.5">t_healthPack</text><text class="t" x="1620.5" y="2661.3"><tspan x="1620.5">+t_healthPack()</tspan><tspan x="1620.5" dy="13.4">+~t_healthPack()</tspan></text></g>
<g id="t_health_protagonist"><rect class="box" x="1743.3" y="2634.3" width="145.8" height="50"/><path class="dv" d="M1743.3,2648.7 H1889.1 M1743.3,2650 H1889.1"/><text class="tt" x="1816.2" y="2645.5">t_health_protagonist</text><text class="t" x="1745.3" y="2661.3"><tspan x="1745.3">+t_health_protagonist()</tspan><tspan x="1745.3" dy="13.4">+~t_health_protagonist()</tspan></text></g>
<g id="t_poisoned_protagonist"><rect class="box" x="1910.2" y="2634.3" width="160.8" height="50"/><path class="dv" d="M1910.2,2648.7 H2071 M1910.2,2650 H2071"/><text class="tt" x="1990.6" y="2645.5">t_poisoned_protagonist</text><text class="t" x="1912.2" y="2661.3"><tspan x="1912.2">+t_poisoned_protagonist()</tspan><tspan x="1912.2" dy="13.4">+~t_poisoned_protagonist()</tspan></text></g>
<g id="t_poisoned_tile"><rect class="box" x="2093" y="2634.3" width="114.2" height="50"/><path class="dv" d="M2093,2648.7 H2207.2 M2093,2650 H2207.2"/><text class="tt" x="2150.1" y="2645.5">t_poisoned_tile</text><text class="t" x="2095" y="2661.3"><tspan x="2095">+t_poisoned_tile()</tspan><tspan x="2095" dy="13.4">+~t_poisoned_tile()</tspan></text></g>
<g id="t_protagonist"><rect class="box" x="2227.4" y="2634.3" width="106.4" height="50"/><path class="dv" d="M2227.4,2648.7 H2333.8 M2227.4,2650 H2333.8"/><text class="tt" x="2280.6" y="2645.5">t_protagonist</text><text class="t" x="2229.4" y="2661.3"><tspan x="2229.4">+t_protagonist()</tspan><tspan x="2229.4" dy="13.4">+~t_protagonist()</tspan></text></g>
<g id="t_tile"><rect class="box" x="2354.9" y="2634.3" width="79.1" height="50"/><path class="dv" d="M2354.9,2648.7 H2434 M2354.9,2650 H2434"/><text class="tt" x="2394.4" y="2645.5">t_tile</text><text class="t" x="2356.9" y="2661.3"><tspan x="2356.9">+t_tile()</tspan><tspan x="2356.9" dy="13.4">+~t_tile()</tspan></text></g>

<!-- evaluation watermark laid over the whole sheet -->
<rect id="watermark" width="2768" height="2688" fill="url(#wm)" pointer-events="none"/>
</svg>
